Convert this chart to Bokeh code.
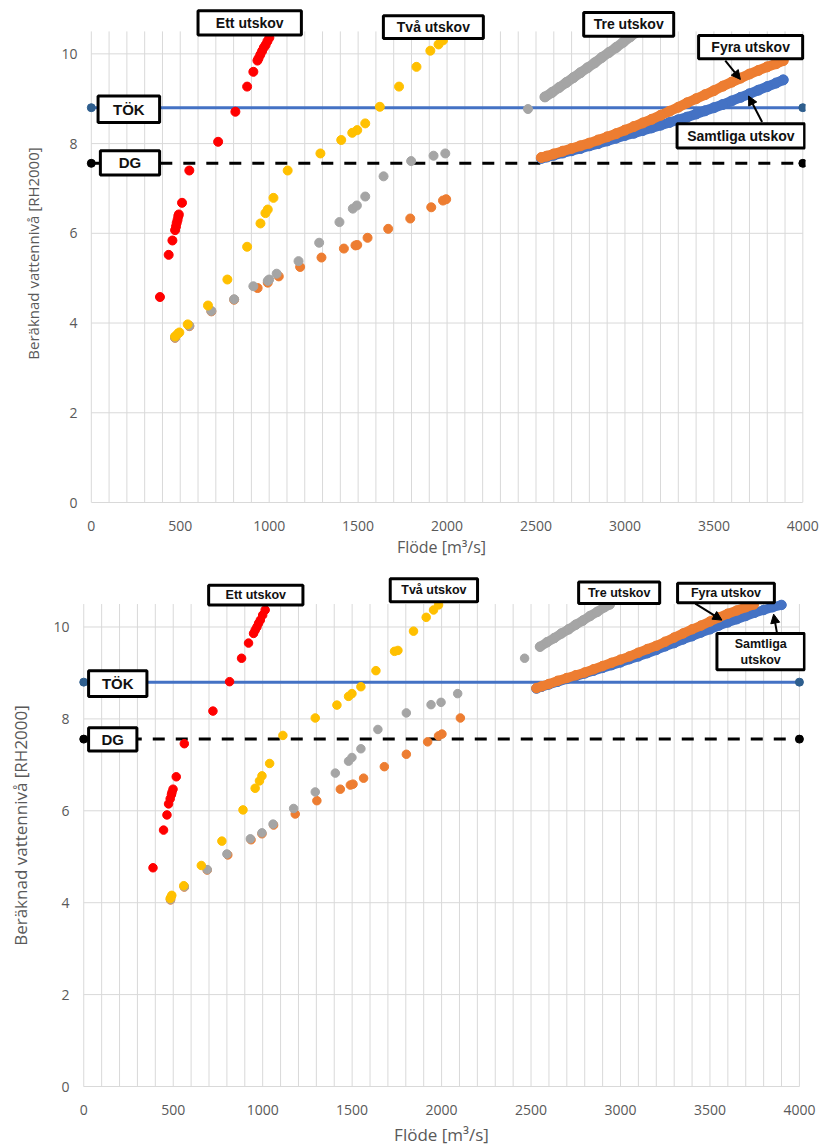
from bokeh.plotting import figure
from bokeh.models import Range1d, FixedTicker, BoxAnnotation, Label, Arrow, NormalHead
from bokeh.layouts import column
from bokeh.embed import file_html
from bokeh.resources import INLINE

# ---------------- data: top chart ----------------
t_ett_x = [386, 435, 456, 471, 476, 480, 485, 489, 492, 510, 551, 713, 810, 876, 911, 934, 940, 950, 960, 970, 980, 990, 1001]
t_ett_y = [4.58, 5.52, 5.84, 6.07, 6.15, 6.23, 6.30, 6.38, 6.42, 6.68, 7.40, 8.04, 8.71, 9.27, 9.60, 9.85, 9.90, 9.98, 10.06, 10.14, 10.20, 10.28, 10.36]

t_tva_x = [471, 486, 495, 542, 656, 765, 876, 951, 979, 992, 1024, 1104, 1288, 1405, 1467, 1495, 1540, 1622, 1730, 1828, 1906, 1952, 1977]
t_tva_y = [3.70, 3.76, 3.79, 3.97, 4.39, 4.97, 5.70, 6.22, 6.45, 6.53, 6.79, 7.40, 7.78, 8.08, 8.24, 8.30, 8.45, 8.82, 9.27, 9.71, 10.07, 10.21, 10.30]

t_tre_x = [471, 551, 675, 803, 911, 992, 1000, 1042, 1165, 1281, 1395, 1470, 1493, 1540, 1643, 1798, 1924, 1990, 2455]
t_tre_y = [3.68, 3.94, 4.27, 4.53, 4.82, 4.94, 4.97, 5.10, 5.38, 5.79, 6.25, 6.55, 6.62, 6.82, 7.27, 7.61, 7.73, 7.78, 8.77]
t_tre_run_x = [2550, 2590, 2630, 2670, 2710, 2750, 2790, 2830, 2870, 2910, 2950, 2990, 3030, 3060]
t_tre_run_y = [9.04, 9.14, 9.25, 9.36, 9.47, 9.58, 9.69, 9.80, 9.92, 10.03, 10.14, 10.26, 10.38, 10.47]

t_fyra_x = [471, 551, 675, 803, 935, 992, 1054, 1174, 1294, 1420, 1485, 1495, 1553, 1669, 1793, 1911, 1977, 1995]
t_fyra_y = [3.67, 3.93, 4.26, 4.52, 4.78, 4.90, 5.04, 5.25, 5.46, 5.66, 5.73, 5.74, 5.90, 6.10, 6.33, 6.58, 6.73, 6.76]
t_fyra_run_x = [2530, 2560, 2600, 2650, 2700, 2750, 2800, 2850, 2900, 2950, 3000, 3050, 3100, 3150, 3200, 3250, 3300,
                3350, 3400, 3450, 3500, 3550, 3600, 3650, 3700, 3750, 3800, 3850, 3890]
t_fyra_run_y = [7.69, 7.72, 7.77, 7.83, 7.89, 7.95, 8.01, 8.08, 8.15, 8.22, 8.30, 8.38, 8.46, 8.54, 8.63, 8.72, 8.81,
                8.91, 9.00, 9.09, 9.18, 9.28, 9.37, 9.46, 9.55, 9.63, 9.71, 9.78, 9.85]

t_alla_run_x = [2530, 2560, 2600, 2650, 2700, 2750, 2800, 2850, 2900, 2950, 3000, 3050, 3100, 3150, 3200, 3250, 3300,
                3350, 3400, 3450, 3500, 3550, 3600, 3650, 3700, 3750, 3800, 3850, 3890]
t_alla_run_y = [7.67, 7.70, 7.74, 7.79, 7.84, 7.89, 7.95, 8.00, 8.06, 8.12, 8.18, 8.23, 8.29, 8.35, 8.41, 8.47, 8.53,
                8.59, 8.66, 8.73, 8.80, 8.87, 8.95, 9.03, 9.11, 9.19, 9.27, 9.35, 9.42]

# ---------------- data: bottom chart ----------------
b_ett_x = [387, 446, 465, 474, 483, 490, 493, 499, 517, 562, 722, 815, 882, 921, 949, 958, 968, 977, 987, 1000, 1014]
b_ett_y = [4.76, 5.58, 5.91, 6.15, 6.26, 6.35, 6.40, 6.47, 6.74, 7.46, 8.17, 8.81, 9.32, 9.65, 9.86, 9.93, 10.00, 10.08, 10.15, 10.26, 10.37]

b_tva_x = [483, 488, 492, 559, 657, 772, 890, 958, 982, 996, 1039, 1113, 1294, 1415, 1480, 1499, 1549, 1633, 1737, 1756, 1843, 1914, 1955, 1983]
b_tva_y = [4.09, 4.12, 4.16, 4.37, 4.81, 5.34, 6.02, 6.49, 6.65, 6.76, 7.03, 7.64, 8.02, 8.30, 8.49, 8.55, 8.70, 9.05, 9.47, 9.49, 9.91, 10.21, 10.37, 10.48]

b_tre_x = [485, 562, 690, 800, 931, 996, 1058, 1173, 1294, 1406, 1480, 1499, 1549, 1644, 1803, 1941, 1997, 2090, 2464]
b_tre_y = [4.07, 4.35, 4.72, 5.06, 5.39, 5.52, 5.71, 6.05, 6.41, 6.82, 7.08, 7.16, 7.35, 7.77, 8.13, 8.31, 8.36, 8.55, 9.32]
b_tre_run_x = [2550, 2590, 2630, 2670, 2710, 2750, 2790, 2830, 2870, 2910, 2940]
b_tre_run_y = [9.57, 9.67, 9.76, 9.86, 9.95, 10.05, 10.14, 10.24, 10.33, 10.43, 10.49]

b_fyra_x = [485, 562, 690, 805, 935, 996, 1061, 1182, 1303, 1434, 1490, 1505, 1564, 1680, 1803, 1922, 1983, 2002, 2105]
b_fyra_y = [4.06, 4.34, 4.71, 5.04, 5.37, 5.50, 5.69, 5.93, 6.22, 6.47, 6.56, 6.58, 6.71, 6.96, 7.23, 7.50, 7.63, 7.67, 8.02]
b_fyra_run_x = [2530, 2560, 2600, 2650, 2700, 2750, 2800, 2850, 2900, 2950, 3000, 3050, 3100, 3150, 3200, 3250, 3300,
                3350, 3400, 3450, 3500, 3550, 3600, 3650, 3700, 3745]
b_fyra_run_y = [8.67, 8.71, 8.76, 8.83, 8.89, 8.95, 9.01, 9.08, 9.15, 9.22, 9.29, 9.36, 9.44, 9.52, 9.59, 9.68, 9.77,
                9.86, 9.95, 10.03, 10.12, 10.21, 10.29, 10.36, 10.43, 10.49]

b_alla_run_x = [2530, 2560, 2600, 2650, 2700, 2750, 2800, 2850, 2900, 2950, 3000, 3050, 3100, 3150, 3200, 3250, 3300,
                3350, 3400, 3450, 3500, 3550, 3600, 3650, 3700, 3750, 3800, 3850, 3900]
b_alla_run_y = [8.66, 8.70, 8.75, 8.81, 8.87, 8.93, 8.99, 9.05, 9.11, 9.17, 9.23, 9.30, 9.36, 9.43, 9.50, 9.58, 9.65,
                9.73, 9.80, 9.88, 9.95, 10.03, 10.10, 10.17, 10.24, 10.31, 10.37, 10.43, 10.48]

# reference levels
tok_level = 8.8
dg_level = 7.56
level_x = [0, 4000]

x_ticks = [0, 500, 1000, 1500, 2000, 2500, 3000, 3500, 4000]
x_grid = list(range(0, 4001, 100))
y_ticks = [0, 2, 4, 6, 8, 10]
y_axis_top = 10.5

C_RED = "#FF0000"
C_YEL = "#FFC000"
C_GRAY = "#A5A5A5"
C_ORA = "#ED7D31"
C_BLUE = "#4472C4"
GRID = "#D9D9D9"
TXT = "#595959"


def make_fig(width, height, xr, ymax, bl, br, bt, bb, cfg):
    p = figure(width=width, height=height, x_range=Range1d(*xr), y_range=Range1d(0, ymax),
               output_backend="svg", toolbar_location=None,
               min_border_left=bl, min_border_right=br, min_border_top=bt, min_border_bottom=bb)
    p.outline_line_color = None
    p.background_fill_color = "white"
    p.border_fill_color = "white"
    p.xaxis.ticker = FixedTicker(ticks=x_ticks)
    p.yaxis.ticker = FixedTicker(ticks=y_ticks)
    p.xgrid.grid_line_color = None
    p.ygrid.grid_line_color = None
    # grid lines limited to the plotted 0..4000 x 0..10.5 area
    p.segment(x0=x_grid, x1=x_grid, y0=[0] * len(x_grid), y1=[y_axis_top] * len(x_grid),
              line_color=GRID, line_width=1)
    p.segment(x0=[0] * len(y_ticks), x1=[4000] * len(y_ticks), y0=y_ticks, y1=y_ticks,
              line_color=GRID, line_width=1)
    for ax in (p.xaxis, p.yaxis):
        ax.major_tick_line_color = None
        ax.minor_tick_line_color = None
        ax.major_label_text_color = TXT
        ax.major_label_text_font = "Open Sans"
        ax.major_label_text_font_size = cfg["tick_fs"]
        ax.axis_label_text_color = TXT
        ax.axis_label_text_font = "Open Sans"
        ax.axis_label_text_font_style = "normal"
    p.xaxis.bounds = (0, 4000)
    p.xaxis.axis_line_color = GRID
    p.yaxis.axis_line_color = None
    p.xaxis.axis_label = "Flöde [m³/s]"
    p.yaxis.axis_label = "Beräknad vattennivå [RH2000]"
    p.xaxis.axis_label_text_font_size = cfg["xt_fs"]
    p.yaxis.axis_label_text_font_size = cfg["yt_fs"]
    p.xaxis.major_label_standoff = cfg["x_std"]
    p.yaxis.major_label_standoff = cfg["y_std"]
    p.xaxis.axis_label_standoff = cfg["x_lstd"]
    p.yaxis.axis_label_standoff = cfg["y_lstd"]
    return p


def dense(p, xs, ys, color, ms):
    p.line(xs, ys, line_color=color, line_width=ms, line_cap="round", line_join="round")
    p.scatter(xs, ys, size=ms, color=color)


def add_data(p, d, ms, dense_ms):
    # reference lines
    p.line(level_x, [tok_level, tok_level], line_color=C_BLUE, line_width=3)
    p.line(level_x, [dg_level, dg_level], line_color="black", line_width=3, line_dash="12 11")
    p.scatter(level_x, [tok_level, tok_level], size=8, color="#2E5E8E")
    p.scatter(level_x, [dg_level, dg_level], size=8, color="black")
    # series (draw order: blue, orange, gray, yellow, red)
    dense(p, d["alla_run"][0], d["alla_run"][1], C_BLUE, dense_ms)
    p.scatter(d["fyra"][0], d["fyra"][1], size=ms, color=C_ORA)
    dense(p, d["fyra_run"][0], d["fyra_run"][1], C_ORA, dense_ms)
    p.scatter(d["tre"][0], d["tre"][1], size=ms, color=C_GRAY)
    dense(p, d["tre_run"][0], d["tre_run"][1], C_GRAY, dense_ms)
    p.scatter(d["tva"][0], d["tva"][1], size=ms, color=C_YEL)
    p.scatter(d["ett"][0], d["ett"][1], size=ms, color=C_RED)


def add_box(p, text, l, r, b, t, fs):
    p.add_layout(BoxAnnotation(left=l, right=r, bottom=b, top=t, fill_color="white", fill_alpha=1.0,
                               line_color="black", line_width=3, line_alpha=1.0, level="annotation"))
    p.add_layout(Label(x=(l + r) / 2, y=(b + t) / 2, text=text, text_align="center", text_baseline="middle",
                       text_font="Liberation Sans", text_font_style="bold", text_font_size=fs,
                       text_color="#111111", text_line_height=1.15))


def add_arrow(p, xs, ys, xe, ye):
    p.add_layout(Arrow(x_start=xs, y_start=ys, x_end=xe, y_end=ye, line_color="black", line_width=2,
                       end=NormalHead(size=9, fill_color="black", line_color="black")))


# ---------------- top figure ----------------
p1 = make_fig(820, 560, (-77.6, 4015), 11.1, 77, 15, 4, 56,
              dict(tick_fs="14px", xt_fs="16px", yt_fs="15px", x_std=12, y_std=-6, x_lstd=2, y_lstd=15))
add_data(p1, dict(ett=(t_ett_x, t_ett_y), tva=(t_tva_x, t_tva_y), tre=(t_tre_x, t_tre_y),
                  tre_run=(t_tre_run_x, t_tre_run_y), fyra=(t_fyra_x, t_fyra_y),
                  fyra_run=(t_fyra_run_x, t_fyra_run_y), alla_run=(t_alla_run_x, t_alla_run_y)), 9, 10)
add_arrow(p1, 3564, 9.85, 3649, 9.43)
add_arrow(p1, 3771, 8.48, 3695, 9.06)
add_box(p1, "Ett utskov", 600, 1181, 10.42, 10.96, "14px")
add_box(p1, "Två utskov", 1642, 2204, 10.34, 10.85, "14px")
add_box(p1, "Tre utskov", 2768, 3274, 10.39, 10.92, "14px")
add_box(p1, "Fyra utskov", 3414, 3999, 9.89, 10.41, "14px")
add_box(p1, "Samtliga utskov", 3293, 4010, 7.90, 8.44, "14px")
add_box(p1, "TÖK", 38, 384, 8.47, 9.06, "15px")
add_box(p1, "DG", 51, 384, 7.30, 7.84, "15px")

# ---------------- bottom figure ----------------
p2 = make_fig(820, 588, (-35, 4034), 11.36, 77, 15, 4, 59,
              dict(tick_fs="14px", xt_fs="17px", yt_fs="17px", x_std=2, y_std=2, x_lstd=5, y_lstd=18))
p2.xaxis.major_label_standoff = 12
add_data(p2, dict(ett=(b_ett_x, b_ett_y), tva=(b_tva_x, b_tva_y), tre=(b_tre_x, b_tre_y),
                  tre_run=(b_tre_run_x, b_tre_run_y), fyra=(b_fyra_x, b_fyra_y),
                  fyra_run=(b_fyra_run_x, b_fyra_run_y), alla_run=(b_alla_run_x, b_alla_run_y)), 8.5, 9.5)
add_arrow(p2, 3418, 10.51, 3567, 10.15)
add_arrow(p2, 3875, 9.86, 3856, 10.28)
add_box(p2, "Ett utskov", 698, 1225, 10.48, 10.91, "12.5px")
add_box(p2, "Två utskov", 1713, 2201, 10.55, 11.05, "12.5px")
add_box(p2, "Tre utskov", 2766, 3219, 10.51, 10.98, "12.5px")
add_box(p2, "Fyra utskov", 3319, 3860, 10.53, 10.95, "12.5px")
add_box(p2, "Samtliga\nutskov", 3539, 4028, 9.07, 9.86, "12.5px")
add_box(p2, "TÖK", 27, 353, 8.49, 9.05, "15px")
add_box(p2, "DG", 27, 297, 7.30, 7.81, "15px")

layout = column(p1, p2, spacing=0)
open("out.html", "w").write(file_html(layout, INLINE))
